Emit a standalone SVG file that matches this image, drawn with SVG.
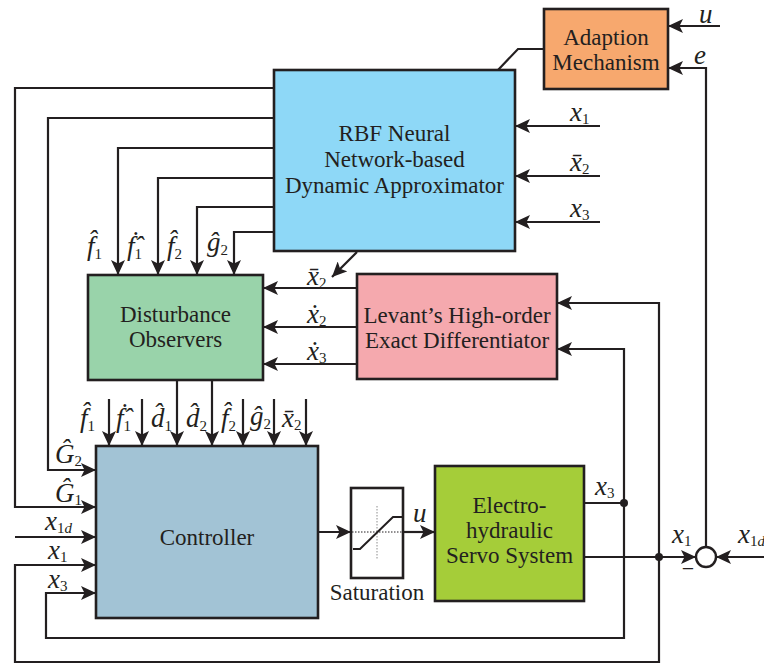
<svg xmlns="http://www.w3.org/2000/svg" width="764" height="665" viewBox="0 0 764 665">
  <style>
    text { font-family: Liberation Serif, "Noto Serif", Tinos, "Times New Roman", Times, "DejaVu Serif", serif; fill: #231F20; }
    .box { stroke: #231F20; stroke-width: 2.6; }
    .ln { fill: none; stroke: #231F20; stroke-width: 2.2; }
    .arr { marker-end: url(#ah); }
    .t { font-size: 23px; text-anchor: middle; }
    .v { font-style: italic; font-size: 27px; }
    .sb { font-style: normal; font-size: 15px; }
    .sbi { font-style: italic; font-size: 15px; }
    .op { font-size: 22px; text-anchor: middle; }
  </style>
  <defs>
    <marker id="ah" markerWidth="16" markerHeight="14" refX="15" refY="7" orient="auto" markerUnits="userSpaceOnUse">
      <path d="M0,0 L15,7 L0,14 L3.5,7 z" fill="#231F20"/>
    </marker>
  </defs>

  <!-- blocks -->
  <g id="adaption">
    <rect class="box" x="544" y="9" width="124" height="80" fill="#F7A86E"/>
    <text class="t" x="606" y="45">Adaption</text>
    <text class="t" x="606" y="70">Mechanism</text>
  </g>
  <g id="rbf">
    <rect class="box" x="274" y="70" width="241" height="181" fill="#8ED8F7"/>
    <text class="t" x="394.5" y="141">RBF Neural</text>
    <text class="t" x="394.5" y="167">Network-based</text>
    <text class="t" x="394.5" y="193">Dynamic Approximator</text>
  </g>
  <g id="observers">
    <rect class="box" x="88" y="275" width="175" height="105" fill="#99D3AA"/>
    <text class="t" x="175.5" y="322">Disturbance</text>
    <text class="t" x="175.5" y="347">Observers</text>
  </g>
  <g id="levant">
    <rect class="box" x="357" y="274" width="200" height="105" fill="#F5A9AE"/>
    <text class="t" x="457" y="323">Levant’s High-order</text>
    <text class="t" x="457" y="348">Exact Differentiator</text>
  </g>
  <g id="controller">
    <rect class="box" x="96" y="446" width="222" height="172" fill="#A2C3D5"/>
    <text class="t" x="207" y="545">Controller</text>
  </g>
  <g id="saturation">
    <rect class="box" x="351" y="488" width="52" height="90" fill="#FFFFFF" stroke-width="2.2"/>
    <line x1="352" y1="532" x2="402" y2="532" stroke="#231F20" stroke-width="1" stroke-dasharray="1.5 1.5"/>
    <line x1="377" y1="506" x2="377" y2="560" stroke="#8C8C8C" stroke-width="1" stroke-dasharray="1.5 1.5"/>
    <polyline points="353,549 360,549 393,517 402,517" fill="none" stroke="#231F20" stroke-width="2"/>
    <text class="t" x="377" y="600">Saturation</text>
  </g>
  <g id="plant">
    <rect class="box" x="435" y="466" width="149" height="135" fill="#A5CD39"/>
    <text class="t" x="509.5" y="513">Electro-</text>
    <text class="t" x="509.5" y="538">hydraulic</text>
    <text class="t" x="509.5" y="563">Servo System</text>
  </g>
  <g id="sum">
    <circle cx="706" cy="557" r="10" fill="#FFFFFF" stroke="#231F20" stroke-width="2.4"/>
  </g>

  <!-- connectors -->
  <g id="connectors">
    <path class="ln" d="M544,49 H518 L498,70"/>
    <path class="ln arr" d="M720,26 H668"/>
    <path class="ln arr" d="M706,547 V68 H668"/>
    <path class="ln arr" d="M600,126 H515"/>
    <path class="ln arr" d="M600,176 H515"/>
    <path class="ln arr" d="M600,222 H515"/>
    <path class="ln arr" d="M274,88 H15 V507 H96"/>
    <path class="ln arr" d="M274,118 H48 V470 H96"/>
    <path class="ln arr" d="M274,148 H118 V275"/>
    <path class="ln arr" d="M274,178 H158 V275"/>
    <path class="ln arr" d="M274,207 H197 V275"/>
    <path class="ln arr" d="M274,232 H234 V275"/>
    <path class="ln arr" d="M357,252 L332,277"/>
    <path class="ln arr" d="M357,288 H263"/>
    <path class="ln arr" d="M357,327 H263"/>
    <path class="ln arr" d="M357,364 H263"/>
    <path class="ln arr" d="M177,380 V446"/>
    <path class="ln arr" d="M212,380 V446"/>
    <path class="ln arr" d="M109,399 V446"/>
    <path class="ln arr" d="M142,399 V446"/>
    <path class="ln arr" d="M243,399 V446"/>
    <path class="ln arr" d="M274,399 V446"/>
    <path class="ln arr" d="M306,399 V446"/>
    <path class="ln arr" d="M15,537 H96"/>
    <path class="ln arr" d="M659,557 V662 H15 V565 H96"/>
    <path class="ln arr" d="M659,557 V303 H557"/>
    <path class="ln arr" d="M624,503 V638 H46 V593 H96"/>
    <path class="ln arr" d="M624,503 V349 H557"/>
    <path class="ln" d="M584,503 H624"/>
    <path class="ln arr" d="M584,557 H696"/>
    <path class="ln arr" d="M764,557 H716"/>
    <path class="ln arr" d="M318,532 H351"/>
    <path class="ln arr" d="M403,532 H435"/>
    <circle cx="624" cy="503" r="4" fill="#231F20"/>
    <circle cx="659" cy="557" r="4" fill="#231F20"/>
  </g>

  <!-- signal labels (accents as combining marks) -->
  <g id="labels">
    <text class="v" x="699" y="23" font-size="22">u</text>
    <text class="v" x="694" y="64">e</text>
    <text class="v" x="570" y="121">x<tspan class="sb" dy="3">1</tspan></text>
    <text class="v" x="570" y="171">x̄<tspan class="sb" dy="3">2</tspan></text>
    <text class="v" x="570" y="217">x<tspan class="sb" dy="3">3</tspan></text>

    <!-- approximator outputs to observers -->
    <text class="v" x="87" y="255">f̂<tspan class="sb" dy="4">1</tspan></text>
    <text class="v" x="127" y="255">ḟ̂<tspan class="sb" dy="4">1</tspan></text>
    <text class="v" x="167" y="255">f̂<tspan class="sb" dy="4">2</tspan></text>
    <text class="v" x="207" y="251">ĝ<tspan class="sb" dy="4">2</tspan></text>

    <!-- differentiator outputs -->
    <text class="v" x="307" y="285">x̄<tspan class="sb" dy="3">2</tspan></text>
    <text class="v" x="307" y="323">ẋ<tspan class="sb" dy="3">2</tspan></text>
    <text class="v" x="307" y="360">ẋ<tspan class="sb" dy="3">3</tspan></text>

    <!-- controller inputs (top) -->
    <text class="v" x="80" y="427">f̂<tspan class="sb" dy="4">1</tspan></text>
    <text class="v" x="116" y="427">ḟ̂<tspan class="sb" dy="4">1</tspan></text>
    <text class="v" x="151" y="427">d̂<tspan class="sb" dy="4">1</tspan></text>
    <text class="v" x="186" y="427">d̂<tspan class="sb" dy="4">2</tspan></text>
    <text class="v" x="221" y="427">f̂<tspan class="sb" dy="4">2</tspan></text>
    <text class="v" x="250" y="425">ĝ<tspan class="sb" dy="4">2</tspan></text>
    <text class="v" x="282" y="427">x̄<tspan class="sb" dy="3">2</tspan></text>

    <!-- controller inputs (left) -->
    <text class="v" x="55" y="463">Ĝ<tspan class="sb" dy="3">2</tspan></text>
    <text class="v" x="55" y="502">Ĝ<tspan class="sb" dy="3">1</tspan></text>
    <text class="v" x="45" y="530">x<tspan class="sb" dy="3">1</tspan><tspan class="sbi">d</tspan></text>
    <text class="v" x="48" y="559">x<tspan class="sb" dy="3">1</tspan></text>
    <text class="v" x="48" y="588">x<tspan class="sb" dy="3">3</tspan></text>

    <!-- plant side -->
    <text class="v" x="413" y="522">u</text>
    <text class="v" x="595" y="495">x<tspan class="sb" dy="3">3</tspan></text>
    <text class="v" x="672" y="543">x<tspan class="sb" dy="3">1</tspan></text>
    <text class="op" x="688" y="576">−</text>
    <text class="v" x="738" y="543">x<tspan class="sb" dy="3">1</tspan><tspan class="sbi">d</tspan></text>
  </g>
</svg>
